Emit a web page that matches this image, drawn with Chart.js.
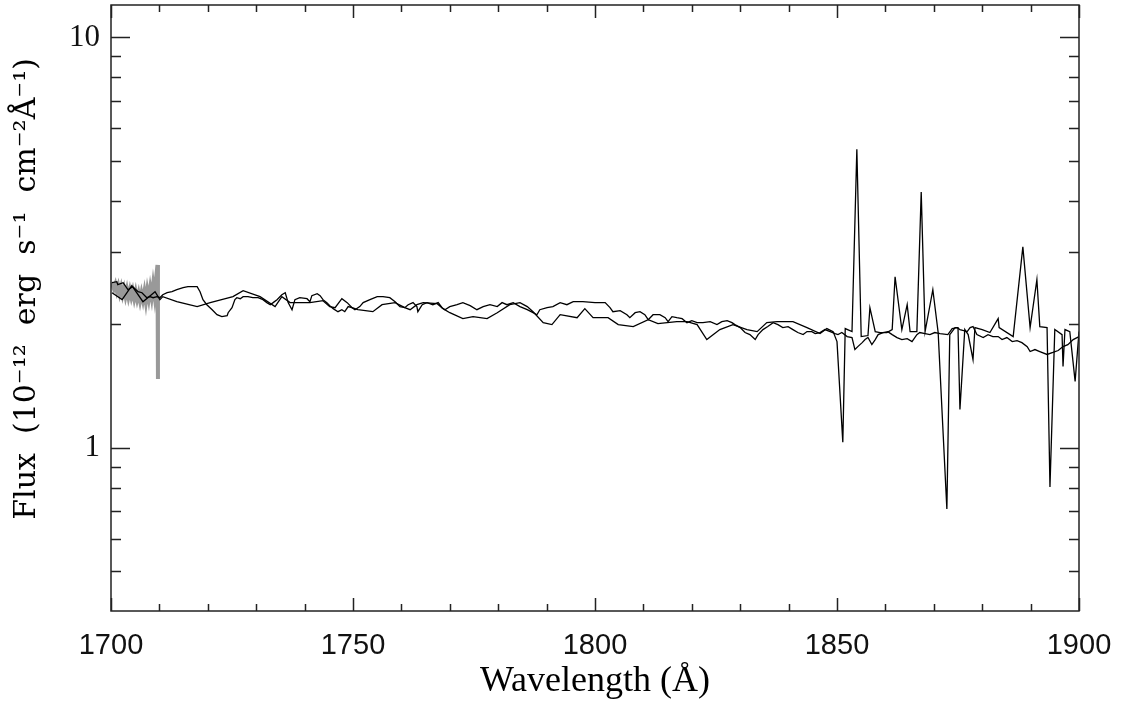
<!DOCTYPE html>
<html lang="en">
<head>
  <meta charset="UTF-8">
  <title>Flux vs Wavelength</title>
  <script src="https://cdn.jsdelivr.net/npm/chart.js"></script>
  <style>
    html, body { margin: 0; padding: 0; background: #fff; }
    #wrap { width: 1127px; height: 704px; position: relative; }
  </style>
</head>
<body>
  <div id="wrap"><canvas id="specChart"></canvas></div>

  <script>
    // Finely sampled spectrum (wiggly line)
    const fineWave = [
      1700.2, 1701.2, 1701.4, 1702.5, 1703.5, 1704.5, 1705.6, 1706.4, 1707.4, 1708.1,
      1708.7, 1709.5, 1710.1, 1710.7, 1711.6, 1712.6, 1713.6, 1714.9, 1715.9, 1716.9,
      1717.8, 1718.4, 1719.0, 1719.8, 1720.9, 1721.9, 1722.9, 1724.0, 1724.2, 1725.0,
      1725.6, 1726.0, 1726.7, 1727.3, 1728.3, 1729.3, 1730.4, 1731.4, 1732.2, 1732.9,
      1733.5, 1734.3, 1735.3, 1736.0, 1736.6, 1737.4, 1738.0, 1739.0, 1740.5, 1741.1,
      1741.5, 1742.6, 1743.2, 1743.8, 1744.6, 1745.2, 1745.9, 1746.9, 1747.7, 1748.3,
      1749.0, 1749.8, 1750.4, 1751.4, 1752.1, 1753.5, 1755.0, 1756.2, 1757.6, 1758.7,
      1759.7, 1760.7, 1761.4, 1762.4, 1763.2, 1763.4, 1764.3, 1765.3, 1766.5, 1767.6,
      1768.4, 1769.0, 1770.0, 1771.5, 1772.7, 1774.2, 1775.6, 1776.9, 1778.3, 1779.8,
      1780.8, 1781.8, 1783.1, 1784.5, 1786.0, 1787.2, 1788.0, 1788.6, 1790.1, 1791.3,
      1792.8, 1794.2, 1795.5, 1797.5, 1800.0, 1802.1, 1803.1, 1803.7, 1805.2, 1806.6,
      1807.2, 1808.3, 1809.3, 1810.3, 1811.0, 1812.0, 1813.4, 1814.5, 1815.1, 1815.9,
      1816.9, 1818.0, 1819.0, 1820.0, 1821.1, 1822.3, 1823.8, 1825.2, 1826.2, 1827.3,
      1828.3, 1828.9, 1830.0, 1831.0, 1832.0, 1833.1, 1833.7, 1834.7, 1835.7, 1836.8,
      1837.8, 1838.8, 1839.9, 1840.9, 1841.9, 1843.0, 1843.8, 1844.8, 1845.5, 1846.5,
      1847.5, 1848.6, 1849.6, 1850.2, 1851.0, 1852.1, 1853.1, 1853.7, 1854.3, 1855.2,
      1855.8, 1856.4, 1857.2, 1857.9, 1858.5, 1859.5, 1860.5, 1861.4, 1862.4, 1863.4,
      1864.5, 1865.5, 1866.5, 1867.1, 1868.2, 1869.2, 1870.2, 1871.3, 1872.9, 1873.8,
      1874.8, 1875.4, 1876.9, 1877.5, 1878.1, 1878.9, 1880.2, 1881.2, 1882.2, 1883.3,
      1884.1, 1885.1, 1886.2, 1887.2, 1888.2, 1889.3, 1889.9, 1890.9, 1891.9, 1893.4,
      1894.6, 1895.7, 1896.7, 1897.7, 1898.8, 1899.6, 1900.0
    ];
    const fineFlux = [
      2.525, 2.539, 2.497, 2.525, 2.428, 2.469, 2.401, 2.387, 2.321, 2.335,
      2.321, 2.335, 2.321, 2.361, 2.387, 2.401, 2.428, 2.455, 2.469, 2.469,
      2.469, 2.401, 2.296, 2.232, 2.170, 2.110, 2.087, 2.099, 2.134, 2.195,
      2.296, 2.321, 2.308, 2.335, 2.335, 2.321, 2.321, 2.296, 2.258, 2.232,
      2.258, 2.296, 2.361, 2.387, 2.258, 2.170, 2.296, 2.321, 2.308, 2.270,
      2.348, 2.374, 2.348, 2.296, 2.258, 2.220, 2.183, 2.146, 2.170, 2.146,
      2.208, 2.195, 2.170, 2.208, 2.258, 2.296, 2.335, 2.335, 2.321, 2.270,
      2.208, 2.195, 2.232, 2.258, 2.208, 2.146, 2.232, 2.258, 2.232, 2.258,
      2.195, 2.170, 2.208, 2.232, 2.258, 2.220, 2.170, 2.208, 2.232, 2.208,
      2.258, 2.232, 2.258, 2.208, 2.170, 2.134, 2.110, 2.170, 2.195, 2.208,
      2.258, 2.232, 2.270, 2.270, 2.258, 2.258, 2.195, 2.146, 2.158, 2.110,
      2.075, 2.134, 2.146, 2.110, 2.052, 2.110, 2.110, 2.075, 2.029, 2.087,
      2.075, 2.064, 2.018, 2.041, 2.018, 2.018, 2.029, 1.996, 2.029, 2.041,
      2.018, 1.996, 1.963, 1.909, 1.887, 1.835, 1.887, 1.941, 1.974, 2.018,
      1.996, 1.963, 1.974, 1.941, 1.909, 1.887, 1.919, 1.919, 1.898, 1.909,
      1.941, 1.919, 1.898, 1.887, 1.909, 1.866, 1.856, 1.735, 1.764, 1.804,
      1.835, 1.856, 1.784, 1.835, 1.887, 1.909, 1.919, 1.887, 1.856, 1.835,
      1.845, 1.814, 1.887, 1.909, 1.898, 1.887, 1.909, 1.898, 1.887, 1.952,
      1.963, 1.941, 1.919, 1.963, 1.974, 1.887, 1.856, 1.887, 1.866, 1.866,
      1.835, 1.856, 1.814, 1.825, 1.804, 1.764, 1.716, 1.735, 1.716, 1.688,
      1.707, 1.726, 1.764, 1.784, 1.835, 1.856, 1.866
    ];

    // Coarsely sampled spectrum (straight segments, noisy spikes past 1850)
    const coarseWave = [
      1700.2, 1702.3, 1704.3, 1706.6, 1709.1, 1710.1, 1710.7, 1713.6, 1717.8, 1720.5,
      1725.2, 1727.3, 1730.8, 1733.9, 1735.3, 1737.0, 1741.1, 1743.8, 1745.2, 1746.3,
      1747.7, 1748.8, 1749.8, 1751.0, 1754.1, 1756.0, 1758.7, 1760.7, 1761.8, 1763.2,
      1764.5, 1767.4, 1768.6, 1770.0, 1772.7, 1774.8, 1777.7, 1779.8, 1782.4, 1784.5,
      1786.0, 1787.2, 1789.3, 1791.1, 1792.8, 1796.3, 1797.9, 1799.6, 1802.7, 1804.8,
      1807.9, 1811.0, 1813.0, 1816.9, 1819.0, 1821.1, 1823.1, 1825.8, 1828.5, 1831.4,
      1833.5, 1835.5, 1837.6, 1840.9, 1843.8, 1846.5, 1847.9, 1849.2, 1850.0, 1851.2,
      1851.7, 1853.1, 1854.1, 1855.0, 1856.4, 1856.8, 1857.9, 1858.9, 1860.3, 1861.4,
      1862.0, 1863.4, 1864.5, 1865.1, 1866.5, 1867.4, 1868.2, 1869.8, 1870.9, 1872.7,
      1873.3, 1874.4, 1875.0, 1875.4, 1876.4, 1877.1, 1878.1, 1878.5, 1880.0, 1881.6,
      1883.3, 1883.5, 1886.4, 1888.4, 1889.9, 1891.3, 1891.9, 1893.4, 1894.0, 1895.0,
      1896.5, 1896.7, 1897.1, 1898.1, 1899.2, 1900.0
    ];
    const coarseFlux = [
      2.387, 2.296, 2.483, 2.270, 2.401, 2.296, 2.335, 2.270, 2.208, 2.258,
      2.335, 2.414, 2.335, 2.208, 2.335, 2.258, 2.258, 2.283, 2.208, 2.195,
      2.308, 2.258, 2.195, 2.170, 2.146, 2.232, 2.258, 2.195, 2.170, 2.232,
      2.258, 2.245, 2.183, 2.134, 2.064, 2.087, 2.064, 2.134, 2.232, 2.258,
      2.208, 2.146, 2.018, 1.996, 2.110, 2.075, 2.183, 2.075, 2.075, 1.996,
      1.974, 2.052, 2.007, 2.029, 2.029, 1.996, 1.835, 1.941, 1.996, 1.941,
      1.919, 2.018, 2.029, 2.029, 1.963, 1.898, 1.952, 1.919, 1.814, 1.031,
      1.952, 1.919, 5.342, 1.866, 1.877, 2.195, 1.919, 1.909, 1.909, 1.941,
      2.611, 1.941, 2.232, 1.919, 1.919, 4.201, 1.919, 2.428, 1.909, 0.709,
      1.887, 1.963, 1.963, 1.240, 1.941, 1.887, 1.641, 1.963, 1.941, 1.909,
      2.064, 1.963, 1.866, 3.088, 1.963, 2.567, 1.974, 1.963, 0.802, 1.941,
      1.887, 1.578, 1.941, 1.919, 1.451, 1.919
    ];

    // Short grey segment at the blue end
    const greyWave = [
      1700.0, 1700.3, 1700.6, 1700.9, 1701.2, 1701.5, 1701.8, 1702.1, 1702.4, 1702.7,
      1703.0, 1703.3, 1703.6, 1703.9, 1704.2, 1704.5, 1704.8, 1705.1, 1705.4, 1705.7,
      1706.0, 1706.3, 1706.6, 1706.9, 1707.2, 1707.5, 1707.8, 1708.1, 1708.4, 1708.7,
      1709.0, 1709.3, 1709.6, 1709.7
    ];
    const greyFlux = [
      2.52, 2.50, 2.44, 2.50, 2.41, 2.48, 2.38, 2.46, 2.36, 2.44,
      2.34, 2.43, 2.33, 2.42, 2.33, 2.41, 2.31, 2.40, 2.30, 2.38,
      2.28, 2.38, 2.29, 2.40, 2.27, 2.42, 2.31, 2.45, 2.33, 2.50,
      2.35, 2.58, 2.79, 1.47
    ];

    // Axis tick values
    const xTickLabels = [1700, 1750, 1800, 1850, 1900];
    const xMinorStep = 10;
    const yTickLabels = [1, 10];
    const yMinorTicks = [0.5, 0.6, 0.7, 0.8, 0.9, 2, 3, 4, 5, 6, 7, 8, 9];

    const toPoints = (xs, ys) => xs.map((x, i) => ({ x: x, y: ys[i] }));

    // IDL-style frame with ticks pointing inward on all four sides
    const frameTicks = {
      id: 'frameTicks',
      afterDatasetsDraw(chart) {
        const ctx = chart.ctx;
        const area = chart.chartArea;
        const xs = chart.scales.x;
        const ys = chart.scales.y;
        ctx.save();
        ctx.strokeStyle = '#222';
        ctx.lineWidth = 1.5;
        ctx.strokeRect(area.left, area.top, area.right - area.left, area.bottom - area.top);

        ctx.beginPath();
        for (let v = xs.min; v <= xs.max; v += xMinorStep) {
          const px = Math.round(xs.getPixelForValue(v)) + 0.5;
          const len = xTickLabels.includes(v) ? 13 : 7;
          ctx.moveTo(px, area.bottom);
          ctx.lineTo(px, area.bottom - len);
          ctx.moveTo(px, area.top);
          ctx.lineTo(px, area.top + len);
        }
        yTickLabels.concat(yMinorTicks).forEach(v => {
          const py = Math.round(ys.getPixelForValue(v)) + 0.5;
          const len = yTickLabels.includes(v) ? 19 : 10;
          ctx.moveTo(area.left, py);
          ctx.lineTo(area.left + len, py);
          ctx.moveTo(area.right, py);
          ctx.lineTo(area.right - len, py);
        });
        ctx.stroke();
        ctx.restore();
      }
    };

    new Chart(document.getElementById('specChart'), {
      type: 'line',
      data: {
        datasets: [
          {
            label: 'fine',
            data: toPoints(fineWave, fineFlux),
            borderColor: '#000',
            borderWidth: 1.3,
            order: 1
          },
          {
            label: 'coarse',
            data: toPoints(coarseWave, coarseFlux),
            borderColor: '#000',
            borderWidth: 1.3,
            order: 2
          },
          {
            label: 'grey',
            data: toPoints(greyWave, greyFlux),
            borderColor: '#999',
            borderWidth: 4,
            order: 3
          }
        ]
      },
      options: {
        responsive: true,
        maintainAspectRatio: false,
        animation: false,
        events: [],
        elements: {
          point: { radius: 0 },
          line: { tension: 0, borderJoinStyle: 'miter' }
        },
        layout: { padding: { top: 5, right: 48, left: 0, bottom: 0 } },
        plugins: {
          legend: { display: false },
          tooltip: { enabled: false }
        },
        scales: {
          x: {
            type: 'linear',
            min: 1700,
            max: 1900,
            grid: { display: false, drawTicks: false },
            border: { display: false },
            afterFit: s => { s.height = 93; s.paddingLeft = 0; s.paddingRight = 0; },
            afterBuildTicks: s => { s.ticks = xTickLabels.map(v => ({ value: v })); },
            ticks: {
              autoSkip: false,
              maxRotation: 0,
              padding: 18,
              color: '#111',
              font: { family: 'Liberation Sans', size: 29 },
              callback: v => String(v)
            },
            title: {
              display: true,
              text: 'Wavelength (Å)',
              color: '#000',
              font: { family: 'Liberation Serif', size: 36 },
              padding: { top: 0, bottom: 1 }
            }
          },
          y: {
            type: 'logarithmic',
            min: 0.4,
            max: 12,
            grid: { display: false, drawTicks: false },
            border: { display: false },
            afterFit: s => { s.width = 111; s.paddingTop = 0; s.paddingBottom = 0; },
            afterBuildTicks: s => { s.ticks = yTickLabels.map(v => ({ value: v })); },
            ticks: {
              padding: 11,
              color: '#111',
              font: { family: 'Liberation Serif', size: 31 },
              callback: v => String(v)
            },
            title: {
              display: true,
              // leading spaces nudge the centred title up a little, like the original
              text: '    Flux  (10⁻¹²  erg  s⁻¹  cm⁻²Å⁻¹)',
              color: '#000',
              font: { family: 'DejaVu Serif', size: 30 },
              padding: { top: 9, bottom: 0 }
            }
          }
        }
      },
      plugins: [frameTicks]
    });
  </script>
</body>
</html>
